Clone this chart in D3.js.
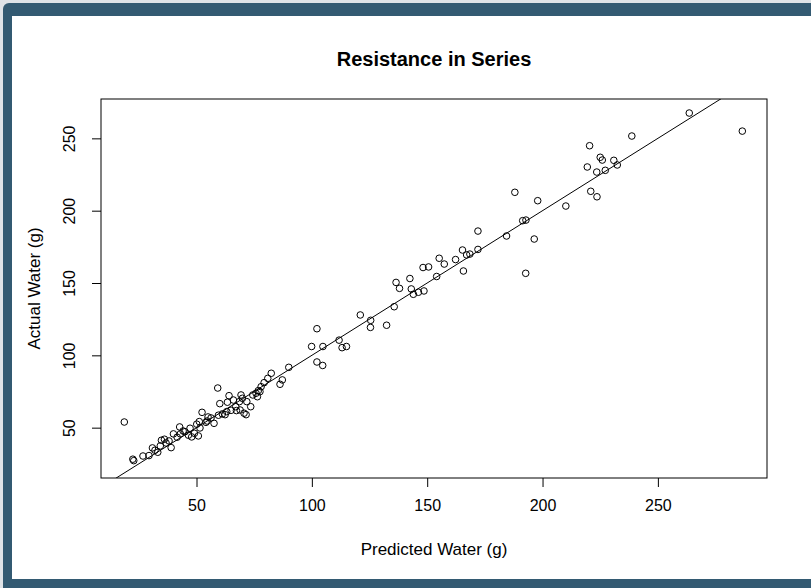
<!DOCTYPE html>
<html>
<head>
<meta charset="utf-8">
<script src="https://cdn.jsdelivr.net/npm/d3@7"></script>
<style>
  body { margin: 0; background: #dfe3e7; }
  svg { display: block; }
  text { font-family: "Liberation Sans", Arial, sans-serif; fill: #000; }
</style>
</head>
<body>
<script>
// predicted vs actual water
let predicted = [18.7,22.4,22.8,29.4,30.9,32.0,33.2,34.3,34.8,36.1,39.0,40.0,41.6,42.7,43.0,45.0,46.5,47.2,47.9,49.1,
  50.1,50.8,51.2,51.5,52.4,54.1,54.6,55.0,56.3,57.6,59.2,59.5,60.1,61.2,62.4,63.1,63.4,64.1,65.0,66.0,
  67.0,67.3,68.6,68.9,69.3,69.9,70.6,71.5,71.8,73.5,74.4,75.8,76.4,76.8,77.5,78.0,79.3,80.9,82.4,86.2,
  87.2,90.0,26.8,36.8,38.1,44.2,
  99.9,102.2,102.2,104.7,104.8,111.8,113.1,115.0,121.0,125.5,125.4,132.4,135.7,136.5,138.0,142.5,143.1,144.0,146.2,148.6,
  148.2,150.6,154.1,155.2,157.4,162.3,165.3,165.7,167.1,168.5,172.0,172.0,184.4,188.0,191.4,192.8,192.7,196.4,197.9,210.1,
  219.4,220.4,220.9,223.5,223.6,225.0,225.9,227.2,230.9,232.4,238.7,263.6,286.6]

let actual = [53.9,28.2,27.2,30.7,36.0,34.4,33.0,37.4,41.3,42.0,36.2,45.7,43.4,50.5,45.7,47.2,44.8,49.6,43.6,46.1,
  52.4,44.3,54.2,49.8,60.6,53.7,54.6,57.4,56.7,53.0,77.4,58.6,66.6,59.5,59.0,61.1,67.6,72.1,62.0,69.1,
  64.5,61.8,68.0,62.2,72.6,70.3,60.0,59.0,68.0,64.5,72.6,73.8,71.4,75.6,74.9,78.3,81.1,84.1,87.6,80.0,
  83.0,91.7,30.4,39.4,40.8,47.7,
  106.1,118.4,95.4,93.0,106.1,110.5,105.3,106.1,127.9,124.2,119.3,120.8,133.6,150.4,146.3,153.1,145.9,142.2,143.6,144.5,
  160.7,161.1,154.5,167.1,163.1,166.2,172.8,158.3,169.4,170.0,173.2,185.9,182.5,212.7,193.1,193.5,156.7,180.4,206.9,203.2,
  230.2,244.9,213.4,226.7,209.6,236.9,235.0,227.9,234.8,231.6,251.6,267.5,255.0]

let xTicks = [50, 100, 150, 200, 250]
let yTicks = [50, 100, 150, 200, 250]
let xDomain = [8.6, 297.3]
let yDomain = [15.2, 277.2]

let points = predicted.map((p, i) => ({x: p, y: actual[i]}))

let W = 811, H = 588
let plotL = 101, plotR = 767, plotT = 99, plotB = 478

let svg = d3.select('body').append('svg')
  .attr("width", W).attr("height", H)

// outer frame like the page around the plot
svg.append('rect')
  .attr("x", 3).attr("y", 3).attr("width", W + 10).attr("height", H + 10)
  .attr("rx", 6).attr("fill", "#335a72")
svg.append('rect')
  .attr("x", 12).attr("y", 16).attr("width", W - 12).attr("height", 579 - 16)
  .attr("fill", "#fff")

let x = d3.scaleLinear().domain(xDomain).range([plotL, plotR])
let y = d3.scaleLinear().domain(yDomain).range([plotB, plotT])

// axes
let xAxis = svg.append('g')
  .attr("transform", `translate(0,${plotB})`)
  .call(d3.axisBottom(x).tickValues(xTicks).tickSize(9).tickFormat(d3.format("d")))
xAxis.select(".domain").remove()
xAxis.selectAll("text")
  .attr("y", 33).attr("dy", 0)
  .style("font-size", "16px")

let yAxis = svg.append('g')
  .attr("transform", `translate(${plotL},0)`)
  .call(d3.axisLeft(y).tickValues(yTicks).tickSize(9).tickFormat(d3.format("d")))
yAxis.select(".domain").remove()
yAxis.selectAll("text")
  .attr("x", 0).attr("y", -26).attr("dy", 0)
  .attr("text-anchor", "middle")
  .attr("transform", "rotate(-90)")
  .style("font-size", "16px")
svg.selectAll(".tick line").attr("stroke", "#000")
svg.selectAll(".tick text").attr("font-family", null)

// clip so the y = x line stays inside the box
svg.append('clipPath').attr("id", "plotclip")
  .append('rect')
  .attr("x", plotL).attr("y", plotT).attr("width", plotR - plotL).attr("height", plotB - plotT)

svg.append('line')
  .attr("clip-path", "url(#plotclip)")
  .attr("x1", x(xDomain[0])).attr("y1", y(xDomain[0]))
  .attr("x2", x(xDomain[1])).attr("y2", y(xDomain[1]))
  .attr("stroke", "#000").attr("stroke-width", 1)

// open circles
svg.selectAll("circle.pt").data(points).enter()
  .append('circle')
  .attr("class", "pt")
  .attr("cx", d => x(d.x))
  .attr("cy", d => y(d.y))
  .attr("r", 3.3)
  .attr("fill", "none")
  .attr("stroke", "#000")
  .attr("stroke-width", 1)

// plot box
svg.append('rect')
  .attr("x", plotL).attr("y", plotT).attr("width", plotR - plotL).attr("height", plotB - plotT)
  .attr("fill", "none").attr("stroke", "#000").attr("stroke-width", 1)

// title and axis labels
svg.append('text')
  .attr("x", (plotL + plotR) / 2).attr("y", 66)
  .attr("text-anchor", "middle")
  .style("font-size", "20px").style("font-weight", "bold")
  .text("Resistance in Series")

svg.append('text')
  .attr("x", (plotL + plotR) / 2).attr("y", 555)
  .attr("text-anchor", "middle")
  .style("font-size", "17px")
  .text("Predicted Water (g)")

svg.append('text')
  .attr("transform", `translate(40,${(plotT + plotB) / 2}) rotate(-90)`)
  .attr("text-anchor", "middle")
  .style("font-size", "17px")
  .text("Actual Water (g)")
</script>
</body>
</html>
